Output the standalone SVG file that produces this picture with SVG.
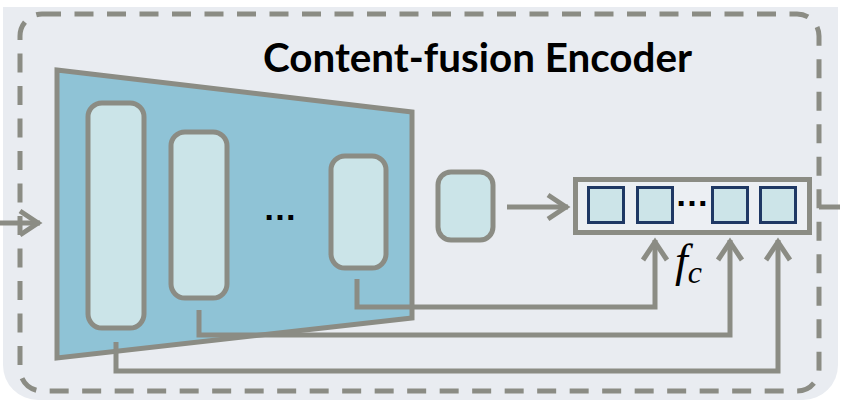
<svg xmlns="http://www.w3.org/2000/svg" width="859" height="420" viewBox="0 0 859 420">
  <style>
    .ln { fill: none; stroke: #8B8C84; stroke-width: 5; }
    .blk { fill: #CBE4E8; stroke: #8B8C84; stroke-width: 5; }
    .sq { fill: #CCE4E8; stroke: #1F3864; stroke-width: 3; }
    .dots { font-family: "Liberation Sans", Arial, sans-serif; font-weight: bold; font-size: 34px; fill: #000; text-anchor: middle; }
  </style>
  <defs>
    <marker id="arr" markerUnits="userSpaceOnUse" viewBox="-25 -15 30 30" markerWidth="30" markerHeight="30" refX="0" refY="0" orient="auto" overflow="visible">
      <path d="M-20,-12 L-2,0 L-20,12" fill="none" stroke="#8B8C84" stroke-width="5" stroke-linejoin="miter"/>
    </marker>
  </defs>

  <rect width="859" height="420" fill="#FFFFFF"/>
  <path id="panel" d="M3,7 H838 V365 A35,35 0 0 1 803,400 H38 A35,35 0 0 1 3,365 Z" fill="#E9ECF1"/>
  <rect id="border" x="20" y="14" width="799" height="377" rx="22" ry="22" fill="none" stroke="#8B8C84" stroke-width="5" stroke-dasharray="19 13.5"/>

  <text id="title" x="263" y="72" font-family="Lato, 'Liberation Sans', sans-serif" font-weight="bold" font-size="40" textLength="429" lengthAdjust="spacingAndGlyphs" fill="#000">Content-fusion Encoder</text>

  <g id="encoder">
    <path d="M57,70 L412,112 L412,318 L57,358 Z" fill="#8FC3D6" stroke="#8B8C84" stroke-width="5" stroke-linejoin="miter"/>
  </g>
  <g id="block1"><rect class="blk" x="88" y="103" width="56" height="225" rx="14"/></g>
  <g id="block2"><rect class="blk" x="171" y="132" width="56" height="166" rx="14"/></g>
  <g id="dots1"><text class="dots" x="280" y="220">…</text></g>
  <g id="block3"><rect class="blk" x="331" y="156" width="55" height="112" rx="14"/></g>
  <g id="block4"><rect class="blk" x="438" y="172" width="55" height="68" rx="13"/></g>

  <g id="fc">
    <rect x="575.5" y="179.5" width="234" height="53" fill="#ECEFF3" stroke="#8B8C84" stroke-width="5"/>
    <rect class="sq" x="588.5" y="187.5" width="35" height="35"/>
    <rect class="sq" x="637.5" y="187.5" width="35" height="35"/>
    <text class="dots" x="692" y="206">…</text>
    <rect class="sq" x="712.5" y="187.5" width="35" height="35"/>
    <rect class="sq" x="760.5" y="187.5" width="35" height="35"/>
  </g>
  <g id="fc-label">
    <text x="675" y="276" font-family="'Liberation Serif', 'Times New Roman', serif" font-style="italic" font-size="46" fill="#000">f<tspan font-size="32" dy="7">c</tspan></text>
  </g>

  <g id="connectors">
    <path class="ln" d="M0,223 H40" marker-end="url(#arr)"/>
    <path class="ln" d="M507,207 H568" marker-end="url(#arr)"/>
    <path class="ln" d="M357,279 V307 H655 V240" marker-end="url(#arr)"/>
    <path class="ln" d="M199,310 V335 H730 V240" marker-end="url(#arr)"/>
    <path class="ln" d="M116,342 V371 H778 V240" marker-end="url(#arr)"/>
    <path class="ln" d="M819,207 H840"/>
  </g>
</svg>
